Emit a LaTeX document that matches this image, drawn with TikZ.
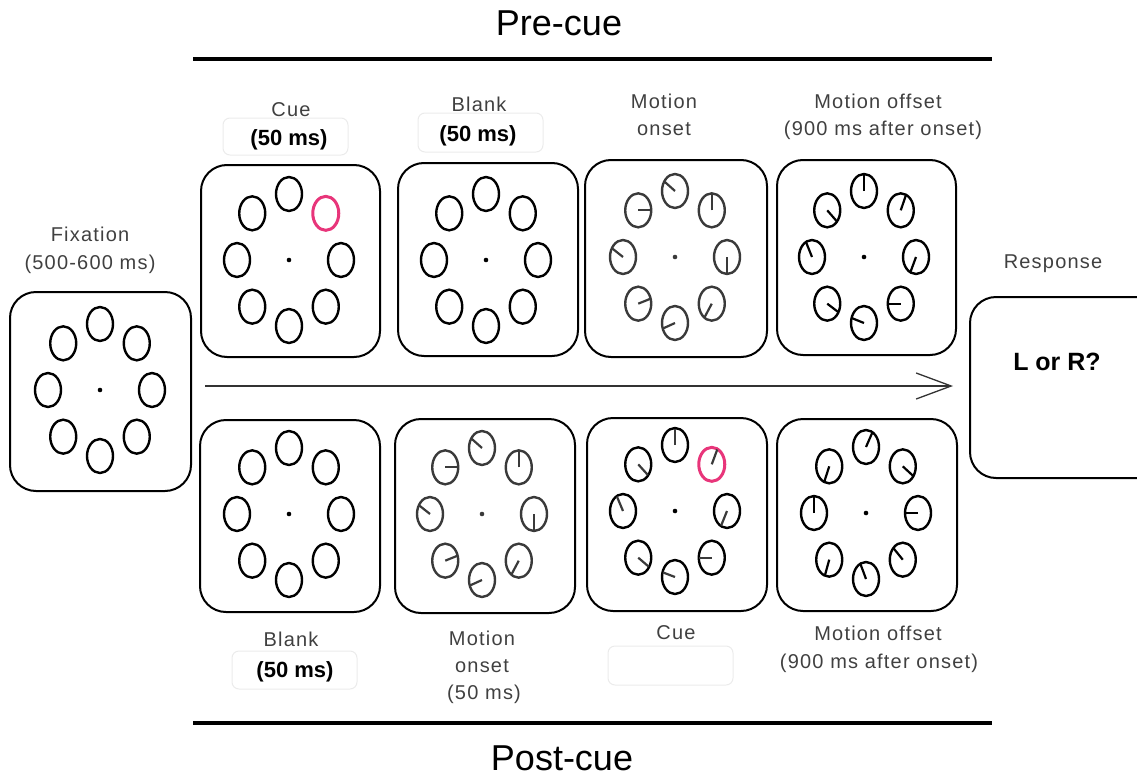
\documentclass[tikz,border=0pt]{standalone}
\usepackage{fontspec}
\setmainfont{Liberation Sans}
\newfontfamily\labfont[LetterSpace=6]{Liberation Sans}
\usetikzlibrary{arrows.meta}
\definecolor{cuepink}{HTML}{E8357A}
\definecolor{labgray}{HTML}{404040}
\definecolor{boxfaint}{HTML}{EBEBEB}
\definecolor{ongray}{HTML}{3A3A3A}

% #1 x, #2 y, #3 hand angles (T,TR,R,BR,B,BL,L,TL; -999 = none), #4 ring colour, #5 hand colour, #6 pink index (-1 none)
\newcommand\dial[6]{%
  \fill[#4] (#1,#2) circle (2.3pt);
  \foreach \h [count=\i from 0] in {#3} {
    \pgfmathsetmacro\pa{90-45*\i}
    \ifnum\i=#6 \def\ec{cuepink}\def\ew{3pt}\else\def\ec{#4}\def\ew{2.4pt}\fi
    \draw[line width=\ew, draw=\ec] (#1,#2) ++(\pa:52pt and 66pt) coordinate (e)
      ellipse [x radius=13pt, y radius=17pt];
    \ifdim\h pt>-500pt
      \draw[line width=2.2pt, draw=#5] (e) -- ++(\h:12.5pt and 16.5pt);
    \fi
  }
}

\tikzset{
  panel/.style={draw=black, line width=2pt, rounded corners=26pt, inner sep=0pt},
  lab/.style={font=\labfont\fontsize{20}{24}\selectfont, text=labgray, anchor=base, inner sep=0pt},
  boldlab/.style={font=\bfseries\fontsize{22}{26}\selectfont, text=black, anchor=base, inner sep=0pt},
  title/.style={font=\fontsize{36}{40}\selectfont, text=black, anchor=base, inner sep=0pt},
  faintbox/.style={draw=boxfaint, line width=1pt, rounded corners=7pt, inner sep=0pt},
  rule/.style={line width=3.5pt, draw=black}
}

\begin{document}
\begin{tikzpicture}[x=1pt,y=-1pt]
\useasboundingbox (0,0) rectangle (1137,776);

% titles and rules
\node[title] (pre) at (559,36) {Pre-cue};
\node[title] (post) at (562,770) {Post-cue};
\coordinate (r1a) at (193,59); \coordinate (r1b) at (992,59);
\coordinate (r2a) at (193,723); \coordinate (r2b) at (992,723);
\draw[rule] (r1a) -- (r1b);
\draw[rule] (r2a) -- (r2b);

% panels
\node[panel, minimum width=181pt, minimum height=199pt] (fix) at (100.5,391.5) {};
\node[panel, minimum width=179pt, minimum height=192pt] (cueT) at (290.5,261) {};
\node[panel, minimum width=180pt, minimum height=193pt] (blankT) at (488,259.5) {};
\node[panel, minimum width=182pt, minimum height=197pt] (monT) at (676,258.5) {};
\node[panel, minimum width=179pt, minimum height=195pt] (moffT) at (866.5,257.5) {};
\node[panel, minimum width=180pt, minimum height=192pt] (blankB) at (290,516) {};
\node[panel, minimum width=180pt, minimum height=194pt] (monB) at (485,516) {};
\node[panel, minimum width=180pt, minimum height=193pt] (cueB) at (677,514.5) {};
\node[panel, minimum width=180pt, minimum height=192pt] (moffB) at (867,515) {};
\node[panel, minimum width=195pt, minimum height=181pt] (resp) at (1067.5,387.5) {};
\node[font=\bfseries\fontsize{25}{28}\selectfont, anchor=base, inner sep=0pt] (lr) at (1057,370) {L or R?};

% dials
\dial{100}{390}{-999,-999,-999,-999,-999,-999,-999,-999}{black}{black}{-1}
\dial{289}{260}{-999,-999,-999,-999,-999,-999,-999,-999}{black}{black}{1}
\dial{486}{260}{-999,-999,-999,-999,-999,-999,-999,-999}{black}{black}{-1}
\dial{675}{257}{146,90,270,235,199,17,149,0}{ongray}{ongray}{-1}
\dial{864}{257}{90,66,244,180,163,330,118,319}{black}{black}{-1}
\dial{289}{514}{-999,-999,-999,-999,-999,-999,-999,-999}{black}{black}{-1}
\dial{482}{514}{146,90,270,235,199,17,149,0}{ongray}{ongray}{-1}
\dial{675}{511}{90,64,242,180,164,327,119,320}{black}{ongray}{1}
\dial{866}{513}{60,325,180,137,116,250,90,247}{black}{black}{-1}

% arrow
\coordinate (arrS) at (205,386);
\coordinate (arrE) at (953,386);
\draw[line width=1.3pt, draw=black!80, -{Straight Barb[length=35pt, width=26pt]}] (arrS) -- (arrE);

% faint label boxes
\node[faintbox, minimum width=125pt, minimum height=37pt] (bx1) at (285.5,136.5) {};
\node[faintbox, minimum width=125pt, minimum height=39pt] (bx2) at (480.5,132.5) {};
\node[faintbox, minimum width=125pt, minimum height=38pt] (bx3) at (294.5,670) {};
\node[faintbox, minimum width=125pt, minimum height=39pt] (bx4) at (670.5,665.5) {};

% labels
\node[lab] (l1) at (90,241) {Fixation};
\node[lab] (l2) at (90,269) {(500-600 ms)};
\node[lab] (l3) at (291,116) {Cue};
\node[boldlab] (l4) at (289,145) {(50 ms)};
\node[lab] (l5) at (479,111) {Blank};
\node[boldlab] (l6) at (478,141) {(50 ms)};
\node[lab] (l7) at (664,108) {Motion};
\node[lab] (l8) at (664,135) {onset};
\node[lab] (l9) at (878,108) {Motion offset};
\node[lab] (l10) at (883,135) {(900 ms after onset)};
\node[lab] (l11) at (1053,268) {Response};
\node[lab] (l12) at (291,646) {Blank};
\node[boldlab] (l13) at (295,677) {(50 ms)};
\node[lab] (l14) at (482,645) {Motion};
\node[lab] (l15) at (482,672) {onset};
\node[lab] (l16) at (484,699) {(50 ms)};
\node[lab] (l17) at (676,639) {Cue};
\node[lab] (l18) at (878,640) {Motion offset};
\node[lab] (l19) at (879,668) {(900 ms after onset)};
\end{tikzpicture}
\end{document}
